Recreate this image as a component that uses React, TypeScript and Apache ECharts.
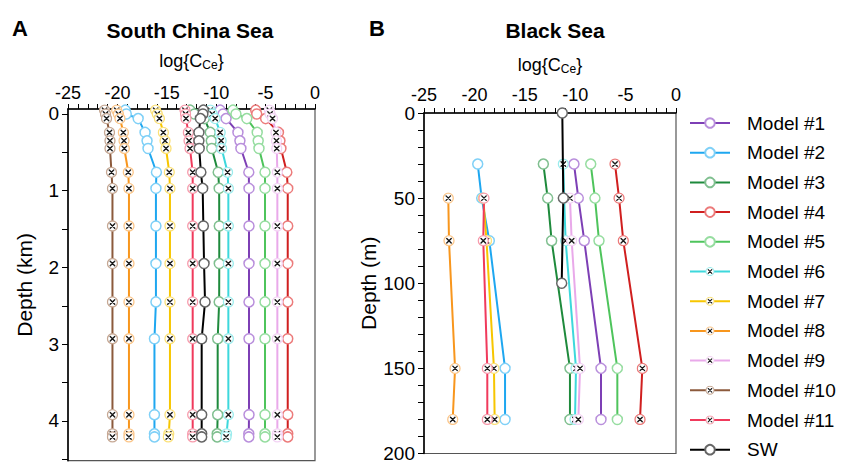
import React, { useEffect, useRef } from 'react';
import * as echarts from 'echarts';

const SERIES_NAMES = ['Model #1', 'Model #2', 'Model #3', 'Model #4', 'Model #5', 'Model #6', 'Model #7', 'Model #8', 'Model #9', 'Model #10', 'Model #11', 'SW'];
const LINE_COLORS = ['#7d3fb5', '#1ea7f0', '#1e8a3c', '#d01f1f', '#4ec45c', '#3dd8dc', '#f7c600', '#f8961d', '#e9a9ea', '#8c5a3c', '#f03a5c', '#000000'];
const RING_COLORS = ['#b98fdc', '#7fd0f7', '#7fbf8f', '#ec7b7b', '#96dda0', '#9beced', '#fbe17a', '#fbc68a', '#f3d3f4', '#c6a894', '#f79bac', '#666666'];
const CROSS_MARK = [false, false, false, false, false, true, true, true, true, true, true, false];

// South China Sea (depth in km)
const SCS_DEPTH_KM = [-0.05, 0.0, 0.06, 0.24, 0.35, 0.45, 0.76, 0.97, 1.46, 1.95, 2.45, 2.93, 3.92, 4.17, 4.21];
const SCS_M1 = [-9.6, -9.3, -9.0, -7.8, -7.6, -7.5, -6.7, -6.68, -6.68, -6.68, -6.68, -6.68, -6.68, -6.7, -6.7];
const SCS_M2 = [-19.2, -19.1, -17.9, -17.2, -17.0, -16.9, -16.05, -16.1, -16.1, -16.1, -16.1, -16.25, -16.25, -16.25, -16.25];
const SCS_M3 = [-12.65, -12.2, -11.2, -10.6, -10.5, -10.45, -9.8, -9.7, -9.69, -9.69, -9.7, -9.85, -9.85, -9.9, -9.9];
const SCS_M4 = [-6.0, -5.9, -5.0, -3.7, -3.55, -3.45, -2.85, -2.76, -2.76, -2.76, -2.76, -2.76, -2.76, -2.76, -2.76];
const SCS_M5 = [-8.3, -8.0, -6.9, -5.85, -5.75, -5.67, -5.06, -5.06, -5.06, -5.06, -5.06, -5.06, -5.06, -5.06, -5.06];
const SCS_M6 = [-10.6, -10.4, -10.1, -9.6, -9.5, -9.45, -8.85, -8.77, -8.77, -8.77, -8.77, -8.77, -8.77, -8.95, -9.0];
const SCS_M7 = [-16.13, -15.96, -15.75, -15.35, -15.18, -15.08, -14.75, -14.68, -14.68, -14.68, -14.68, -14.68, -14.68, -14.8, -14.85];
const SCS_M8 = [-20.07, -19.9, -19.74, -19.4, -19.33, -19.3, -18.9, -18.83, -18.83, -18.83, -18.83, -18.83, -18.83, -18.83, -18.83];
const SCS_M9 = [-4.62, -4.55, -4.3, -3.95, -3.9, -3.87, -3.81, -3.81, -3.81, -3.81, -3.81, -3.81, -3.81, -3.81, -3.81];
const SCS_M10 = [-21.3, -21.2, -21.1, -20.8, -20.75, -20.75, -20.6, -20.5, -20.5, -20.5, -20.5, -20.5, -20.5, -20.5, -20.5];
const SCS_M11 = [-13.16, -13.1, -13.06, -12.82, -12.75, -12.65, -12.38, -12.38, -12.38, -12.38, -12.38, -12.38, -12.38, -12.38, -12.38];
const SCS_SW = [-11.3, -11.35, -11.6, -11.75, -11.75, -11.72, -11.55, -11.37, -11.3, -11.23, -11.13, -11.47, -11.47, -11.47, -11.47];
const SCS_VALUES = [SCS_M1, SCS_M2, SCS_M3, SCS_M4, SCS_M5, SCS_M6, SCS_M7, SCS_M8, SCS_M9, SCS_M10, SCS_M11, SCS_SW];

// Black Sea (depth in m)
const BS_DEPTH_M = [0, 30, 50, 75, 100, 150, 180];
const BS_M1 = [null, -10.12, -9.69, -9.1, null, -7.44, -7.44];
const BS_M2 = [null, -19.67, -19.28, -18.52, null, -16.96, -16.96];
const BS_M3 = [null, -13.16, -12.73, -12.34, null, -10.52, -10.52];
const BS_M4 = [null, -6.05, -5.65, -5.23, null, -3.34, -3.57];
const BS_M5 = [null, -8.46, -8.04, -7.64, null, -5.82, -5.82];
const BS_M6 = [null, -11.18, -11.1, -10.95, null, -9.92, -10.02];
const BS_M7 = [null, null, -19.12, -18.8, null, -18.06, -17.99];
const BS_M8 = [null, null, -22.59, -22.52, null, -21.92, -22.15];
const BS_M9 = [null, null, -10.52, -10.35, null, -9.52, -9.69];
const BS_M10 = [null, null, null, null, null, null, null];
const BS_M11 = [null, null, -19.05, -19.12, null, -18.72, -18.72];
const BS_SW = [-11.28, null, -11.18, null, -11.34, null, null];
const BS_VALUES = [BS_M1, BS_M2, BS_M3, BS_M4, BS_M5, BS_M6, BS_M7, BS_M8, BS_M9, BS_M10, BS_M11, BS_SW];

const X_MIN = -25;
const X_MAX = 0;
const SCS_TICKS = [0, 0.5, 1, 1.5, 2, 2.5, 3, 3.5, 4, 4.5];
const SCS_LABELS = [0, 1, 2, 3, 4];

const FONT = '"Liberation Sans", Arial, Helvetica, sans-serif';

function crossSymbol(ring: string): string {
  const svg = `<svg xmlns="http://www.w3.org/2000/svg" width="24" height="24" viewBox="0 0 24 24"><circle cx="12" cy="12" r="10" fill="#ffffff" stroke="${ring}" stroke-width="2.6"/><path d="M7.5 7.5L16.5 16.5M16.5 7.5L7.5 16.5" stroke="#1a1a1a" stroke-width="2.8" stroke-linecap="round"/></svg>`;
  return 'image://data:image/svg+xml;charset=utf-8,' + encodeURIComponent(svg);
}

function makeSeries(panel: number, i: number, values: (number | null)[], depths: number[], forceCross = false) {
  const cross = CROSS_MARK[i] || forceCross;
  return {
    type: 'line',
    name: SERIES_NAMES[i],
    xAxisIndex: panel,
    yAxisIndex: panel,
    data: depths.map((d, k) => (values[k] == null ? null : [values[k], d])).filter((p) => p !== null),
    connectNulls: true,
    clip: false,
    symbol: cross ? crossSymbol(RING_COLORS[i]) : 'circle',
    symbolSize: cross ? 12 : 10,
    lineStyle: { color: LINE_COLORS[i], width: 2 },
    itemStyle: { color: '#ffffff', borderColor: RING_COLORS[i], borderWidth: 1.5 },
    z: i === 11 ? 3 : 2,
  };
}

function xAxisCfg(grid: number, margin: number, nameGap: number) {
  return {
    type: 'value',
    gridIndex: grid,
    position: 'top',
    min: X_MIN,
    max: X_MAX,
    interval: 1,
    name: '{a|log{C}{b|Ce}}',
    nameLocation: 'middle',
    nameGap,
    nameTextStyle: {
      fontFamily: FONT,
      fontSize: 18,
      color: '#000',
      rich: {
        a: { fontFamily: FONT, fontSize: 18, color: '#000' },
        b: { fontFamily: FONT, fontSize: 12, color: '#000', padding: [8, 0, 0, 0] },
      },
    },
    axisLine: { show: true, onZero: false, lineStyle: { color: '#000', width: 1.5 } },
    axisTick: { show: true, inside: false, length: 5, lineStyle: { color: '#000', width: 1 } },
    axisLabel: {
      margin,
      fontFamily: FONT,
      fontSize: 18,
      color: '#000',
      formatter: (v: number) => (Math.abs(v % 5) < 1e-6 ? String(v) : ''),
    },
    splitLine: { show: false },
  };
}

export default function App() {
  const ref = useRef<HTMLDivElement>(null);
  useEffect(() => {
    if (!ref.current) return;
    const chart = echarts.init(ref.current, null, { renderer: 'svg' });
    const series: any[] = [];
    SERIES_NAMES.forEach((_, i) => series.push(makeSeries(0, i, SCS_VALUES[i], SCS_DEPTH_KM)));
    SERIES_NAMES.forEach((_, i) => {
      if (BS_VALUES[i].some((v) => v != null)) series.push(makeSeries(1, i, BS_VALUES[i], BS_DEPTH_M, i === 3));
    });

    chart.setOption({
      animation: false,
      backgroundColor: '#ffffff',
      grid: [
        { left: 68, top: 109, width: 247, height: 351.7, show: true, borderColor: '#555', borderWidth: 1.2, backgroundColor: 'transparent' },
        { left: 424, top: 113, width: 252, height: 345, show: true, borderColor: '#555', borderWidth: 1.2, backgroundColor: 'transparent' },
      ],
      xAxis: [xAxisCfg(0, 7, 38), xAxisCfg(1, 9, 38)],
      yAxis: [
        {
          type: 'value',
          gridIndex: 0,
          inverse: true,
          min: -0.065,
          max: 4.52,
          name: 'Depth (km)',
          nameLocation: 'middle',
          nameGap: 33,
          nameTextStyle: { fontFamily: FONT, fontSize: 21, color: '#000' },
          axisLine: { show: true, onZero: false, lineStyle: { color: '#000', width: 1.5 } },
          axisTick: { show: true, length: 6, customValues: SCS_TICKS, lineStyle: { color: '#000', width: 1 } },
          axisLabel: { customValues: SCS_LABELS, margin: 9, fontFamily: FONT, fontSize: 19, color: '#000' },
          splitLine: { show: false },
        },
        {
          type: 'value',
          gridIndex: 1,
          inverse: true,
          min: 0,
          max: 200,
          interval: 10,
          name: 'Depth (m)',
          nameLocation: 'middle',
          nameGap: 40,
          nameTextStyle: { fontFamily: FONT, fontSize: 21, color: '#000' },
          axisLine: { show: true, onZero: false, lineStyle: { color: '#000', width: 1.5 } },
          axisTick: { show: true, length: 6, lineStyle: { color: '#000', width: 1 } },
          axisLabel: {
            margin: 9,
            fontFamily: FONT,
            fontSize: 19,
            color: '#000',
            formatter: (v: number) => (v % 50 === 0 ? String(v) : ''),
          },
          splitLine: { show: false },
        },
      ],
      legend: {
        orient: 'vertical',
        left: 689,
        top: 113,
        padding: 0,
        itemWidth: 40,
        itemHeight: 12,
        itemGap: 9.7,
        data: SERIES_NAMES,
        formatter: (n: string) => `{pad|}${n}`,
        textStyle: {
          fontFamily: FONT,
          fontSize: 19,
          lineHeight: 20,
          color: '#000',
          rich: { pad: { width: 12 } },
        },
      },
      graphic: [
        { type: 'text', left: 12, top: 17, style: { text: 'A', font: `bold 22px ${FONT}`, fill: '#000' } },
        { type: 'text', left: 369, top: 17, style: { text: 'B', font: `bold 22px ${FONT}`, fill: '#000' } },
        { type: 'text', x: 190, y: 30, style: { text: 'South China Sea', font: `bold 21px ${FONT}`, fill: '#000', textAlign: 'center', textVerticalAlign: 'middle' } },
        { type: 'text', x: 555, y: 30, style: { text: 'Black Sea', font: `bold 21px ${FONT}`, fill: '#000', textAlign: 'center', textVerticalAlign: 'middle' } },
      ],
      series,
    });
    return () => chart.dispose();
  }, []);
  return <div ref={ref} style={{ position: 'fixed', left: 0, top: 0, width: 846, height: 463 }} />;
}
